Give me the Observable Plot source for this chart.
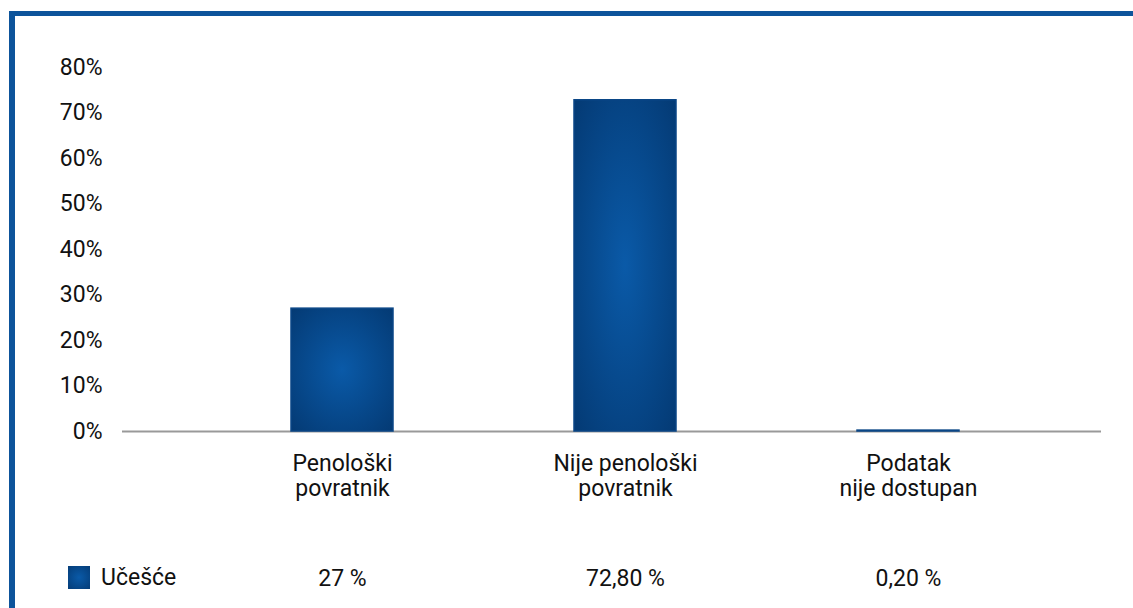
<!DOCTYPE html>
<html>
<head>
<meta charset="utf-8">
<script src="https://cdn.jsdelivr.net/npm/d3@7"></script>
<script src="https://cdn.jsdelivr.net/npm/@observablehq/plot@0.6"></script>
<style>
  html, body { margin: 0; padding: 0; background: #fff; }
  body { width: 1133px; height: 608px; position: relative; overflow: hidden; font-family: Roboto, "Noto Sans", sans-serif; }
  #topline { position: absolute; left: 9px; top: 11px; width: 1124px; height: 5px; background: #0d549b; }
  #leftline { position: absolute; left: 9px; top: 11px; width: 6px; height: 597px; background: #0d549b; }
  #chart { position: absolute; left: 0; top: 0; }
  #legend { position: absolute; left: 68px; top: 564px; display: flex; align-items: center; font-size: 23px; color: #111; }
  #legend .sw { width: 22px; height: 23px; background: radial-gradient(circle, #0a5aa8 0%, #053f7c 90%); margin-right: 11px; }
</style>
</head>
<body>
<div id="chart"></div>
<div id="topline"></div>
<div id="leftline"></div>
<div id="legend"><div class="sw"></div><span>Učešće</span></div>
<script>
const categories = ["Penološki\npovratnik", "Nije penološki\npovratnik", "Podatak\nnije dostupan"];
const values = [27, 72.8, 0.2];
const valueLabels = ["27 %", "72,80 %", "0,20 %"];
const yTicks = [0, 10, 20, 30, 40, 50, 60, 70, 80];
const seriesName = "Učešće";

const data = categories.map((c, i) => ({cat: c, value: values[i], label: valueLabels[i]}));

const chart = Plot.plot({
  width: 1133,
  height: 608,
  marginLeft: 122,
  marginRight: 32,
  marginTop: 67,
  marginBottom: 177,
  style: {fontFamily: "Roboto, 'Noto Sans', sans-serif", fontSize: "23px", color: "#111", background: "transparent"},
  x: {domain: categories, range: [199.5, 1049.5], paddingInner: 0.64, paddingOuter: 0.32, axis: null},
  y: {domain: [0, 80], axis: null, label: null},
  marks: [
    Plot.axisY({ticks: yTicks, tickSize: 0, tickPadding: 20, tickFormat: d => d + "%", fontSize: 23, label: null}),
    Plot.ruleY([0], {stroke: "#999", strokeWidth: 2}),
    Plot.barY(data, {x: "cat", y: "value", fill: "url(#barGrad)", stroke: "#0a4686", strokeWidth: 1.5}),
    Plot.text(data, {x: "cat", text: "cat", frameAnchor: "bottom", dy: 44, lineAnchor: "middle", lineHeight: 1.09, fontSize: 23, fill: "#111"}),
    Plot.text(data, {x: "cat", text: "label", frameAnchor: "bottom", dy: 147, lineAnchor: "middle", fontSize: 23, fill: "#111"})
  ]
});

const svg = d3.select(chart);
const defs = svg.insert("defs", ":first-child");
const g = defs.append("radialGradient").attr("id", "barGrad").attr("cx", "50%").attr("cy", "50%").attr("r", "70%");
g.append("stop").attr("offset", "0%").attr("stop-color", "#0a5aa8");
g.append("stop").attr("offset", "100%").attr("stop-color", "#043a74");

document.getElementById("chart").appendChild(chart);
</script>
</body>
</html>
